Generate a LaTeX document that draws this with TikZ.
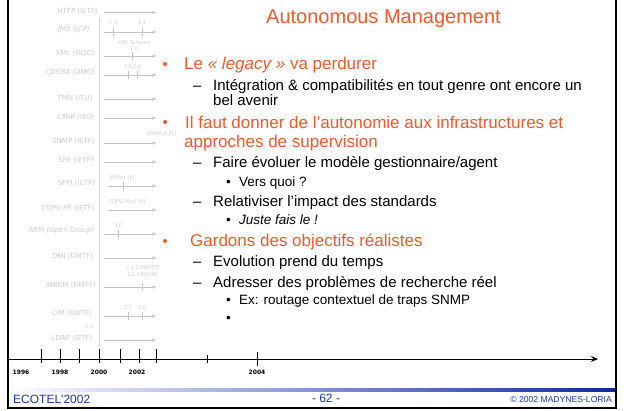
\documentclass[tikz,border=0pt]{standalone}
\usepackage{fontspec}
\setmainfont[Ligatures=TeXOff]{Liberation Sans}
\newfontfamily\dejavu{DejaVu Sans}
\usetikzlibrary{arrows.meta}
\definecolor{orng}{RGB}{240,90,40}
\definecolor{ecoblue}{RGB}{30,55,170}
\definecolor{barblue}{RGB}{15,40,160}
\definecolor{lgray}{RGB}{204,204,204}
\definecolor{agray}{RGB}{196,196,196}
\definecolor{vgray}{RGB}{214,214,214}
\begin{document}
\begin{tikzpicture}[x=1pt,y=-1pt,
  lvlone/.style={anchor=base west, inner sep=0, text=orng, font=\fontsize{17}{20}\selectfont},
  lvltwo/.style={anchor=base west, inner sep=0, font=\fontsize{15}{18}\selectfont},
  lvlthree/.style={anchor=base west, inner sep=0, font=\fontsize{13.5}{16}\selectfont},
  lab/.style={anchor=center, inner sep=0, text=lgray, font=\dejavu\fontsize{7}{8}\selectfont},
  ilab/.style={lab, font=\dejavu\itshape\fontsize{7}{8}\selectfont},
  vlab/.style={anchor=center, inner sep=0, text=lgray, font=\dejavu\fontsize{5}{6}\selectfont},
  tline/.style={draw=agray, line width=0.7pt, -{Stealth[length=4pt,width=3.5pt]}},
  vtick/.style={draw=agray, line width=0.7pt},
  axtick/.style={draw=black, line width=0.8pt},
  year/.style={anchor=center, inner sep=0, font=\dejavu\bfseries\fontsize{6}{7}\selectfont},
  foot/.style={inner sep=0, text=ecoblue}
]
\useasboundingbox (0,0) rectangle (628,410);
\fill[white] (0,0) rectangle (628,410);

% ---- left timeline panel ----
\draw[vgray, line width=0.8pt] (99,18) -- (99,359);

\node[lab]  (http) at (77.5,11) {HTTP (IETF)};
\node[ilab] (jmx)  at (74,30)   {JMX (JCP)};
\node[lab]  (xml)  at (75,53)   {XML (W3C)};
\node[ilab] (corba) at (70,72)  {CORBA (OMG)};
\node[lab]  (tmn)  at (75,98)   {TMN (ITU)};
\node[ilab] (cmip) at (76,117)  {CMIP (ISO)};
\node[lab]  (snmp) at (73.5,141) {SNMP (IETF)};
\node[lab]  (smi)  at (76,160)  {SMI (IETF)};
\node[lab]  (sppi) at (76.5,183) {SPPI (IETF)};
\node[lab]  (cops) at (68,208)  {COPS-PR (IETF)};
\node[ilab] (arm)  at (61.5,231) {ARM (Open Group)};
\node[lab]  (dmi)  at (72.5,256) {DMI (DMTF)};
\node[lab]  (wbem) at (71,285)  {WBEM (DMTF)};
\node[ilab] (cim)  at (72,313)  {CIM (DMTF)};
\node[lab]  (ldap) at (72,338)  {LDAP (IETF)};

\draw[tline] (104,12.5) -- (156,12.5);
\draw[tline] (104,32) -- (156,32);
\draw[tline] (104,56) -- (156,56);
\draw[tline] (104,75) -- (156,75);
\draw[tline] (104,99) -- (156,99);
\draw[tline] (104,118) -- (156,118);
\draw[tline] (104,143) -- (156,143);
\draw[tline] (104,162) -- (156,162);
\draw[tline] (108,186) -- (156,186);
\draw[tline] (108,210) -- (156,210);
\draw[tline] (104,234) -- (156,234);
\draw[tline] (104,258) -- (156,258);
\draw[tline] (104,287) -- (156,287);
\draw[tline] (104,316) -- (156,316);
\draw[tline] (104,340) -- (156,340);

% version ticks
\draw[vtick] (113,28) -- (113,36);
\draw[vtick] (142,28) -- (142,36);
\draw[vtick] (132,52) -- (132,60);
\draw[vtick] (128,71) -- (128,79);
\draw[vtick] (137,71) -- (137,79);
\draw[vtick] (123,182) -- (123,190);
\draw[vtick] (118,230) -- (118,238);
\draw[vtick] (142,283) -- (142,291);
\draw[vtick] (128,312) -- (128,320);
\draw[vtick] (142,312) -- (142,320);

\node[vlab] (jmxa) at (113,23) {1.0};
\node[vlab] (jmxb) at (142,23) {1.1};
\node[vlab] (xmla) at (134,43) {XML Schema};
\node[vlab] (xmlb) at (134,49) {1.0};
\node[vlab] (corbaa) at (128,67) {2.5};
\node[vlab] (corbab) at (137,67) {2.6};
\node[vlab] (snmpa) at (161.5,134) {SNMPv3 [S]};
\node[vlab] (sppia) at (122,178) {SPPIv1 [P]};
\node[vlab] (copsa) at (127,202) {COPS-PRv1 [P]};
\node[vlab] (arma) at (118,226) {3.0};
\node[vlab] (wbema) at (143,268) {1.1 CIM/HTTP};
\node[vlab] (wbemb) at (143,275) {2.1 CIM/XML};
\node[vlab] (cima) at (128,308) {2.5};
\node[vlab] (cimb) at (142,308) {2.6};
\node[vlab, font=\dejavu\itshape\fontsize{5}{6}\selectfont] (ldapa) at (89,327) {2.2};

% ---- time axis ----
\coordinate (axs) at (8,359);
\coordinate (axe) at (598,359);
\draw[black, line width=0.8pt, -{Stealth[length=7pt,width=6pt]}] (axs) -- (axe);
\foreach \x in {41,60,79,99,120,139,156} \draw[axtick] (\x,349) -- (\x,363);
\draw[axtick] (207,355) -- (207,363);
\draw[axtick] (257,352) -- (257,366);
\node[year] (y96) at (21,372) {1996};
\node[year] (y98) at (60,372) {1998};
\node[year] (y00) at (99,372) {2000};
\node[year] (y02) at (137,372) {2002};
\node[year] (y04) at (257,372) {2004};

% ---- title and bullets ----
\node[anchor=base, inner sep=0, text=orng, font=\fontsize{20}{24}\selectfont] (title) at (383.5,23) {Autonomous Management};

\fill[orng] (165,64) circle (2);
\node[lvlone] (l1a) at (184,69) {Le \textit{« legacy »} va perdurer};
\node[lvltwo] (d1) at (193,90) {–};
\node[lvltwo] (l2a) at (213,90) {Intégration \& compatibilités en tout genre ont encore un};
\node[lvltwo] (l2b) at (213,105) {bel avenir};

\fill[orng] (165,122) circle (2);
\node[lvlone] (l1b) at (185,128) {Il faut donner de l’autonomie aux infrastructures et};
\node[lvlone] (l1c) at (184,147) {approches de supervision};
\node[lvltwo] (d2) at (193,167) {–};
\node[lvltwo] (l2c) at (213,167) {Faire évoluer le modèle gestionnaire/agent};
\node[lvlthree] (b1) at (226,186) {•};
\node[lvlthree] (l3a) at (239,186) {Vers quoi ?};
\node[lvltwo] (d3) at (193,206) {–};
\node[lvltwo] (l2d) at (213,206) {Relativiser l’impact des standards};
\node[lvlthree] (b2) at (226,224) {•};
\node[lvlthree, font=\itshape\fontsize{13.5}{16}\selectfont] (l3b) at (239,224) {Juste fais le !};

\fill[orng] (165,241) circle (2);
\node[lvlone] (l1d) at (190,246) {Gardons des objectifs réalistes};
\node[lvltwo] (d4) at (193,266) {–};
\node[lvltwo] (l2e) at (213,266) {Evolution prend du temps};
\node[lvltwo] (d5) at (193,287) {–};
\node[lvltwo] (l2f) at (213,287) {Adresser des problèmes de recherche réel};
\node[lvlthree] (b3) at (226,304) {•};
\node[lvlthree] (l3c) at (239,304) {Ex: routage contextuel de traps SNMP};
\node[lvlthree] (b4) at (226,322) {•};

% ---- footer ----
\shade[left color=white, right color=barblue] (8,388) rectangle (615,391.5);
\node[foot, anchor=base west, font=\fontsize{12}{14}\selectfont] (eco) at (13,403) {ECOTEL'2002};
\node[foot, anchor=base, font=\fontsize{12}{14}\selectfont] (page) at (326,402) {- 62 -};
\node[foot, anchor=base east, font=\fontsize{8.6}{10}\selectfont] (copy) at (612,402.5) {© 2002 MADYNES-LORIA};

% ---- frame ----
\draw[black, line width=2pt] (8,0) -- (8,408) -- (616,408) -- (616,0);
\end{tikzpicture}
\end{document}
